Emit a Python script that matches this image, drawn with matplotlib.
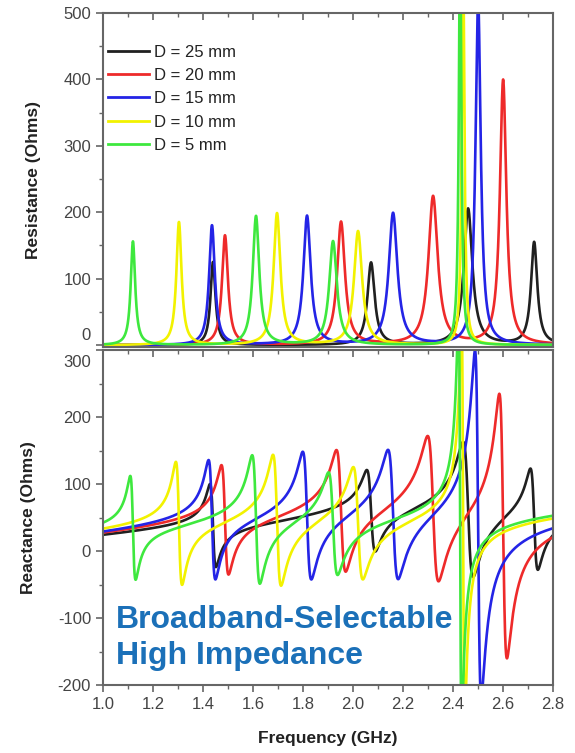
import numpy as np
import matplotlib
matplotlib.use("Agg")
import matplotlib.pyplot as plt
from matplotlib.ticker import MultipleLocator
from matplotlib.transforms import ScaledTranslation

plt.rcParams['font.family'] = ['Liberation Sans', 'DejaVu Sans']
plt.rcParams['axes.unicode_minus'] = False

# ---- data ----
labels = ["D = 25 mm", "D = 20 mm", "D = 15 mm", "D = 10 mm", "D = 5 mm"]
colors = ["#202020", "#ee2a2a", "#2424e6", "#f2f200", "#3ee83e"]

# resonance frequencies (GHz), peak resistances (Ohm) and quality factors
black_f = [1.440, 2.072, 2.460, 2.724]
black_r = [125, 124, 205, 154]
black_q = [60, 60, 60, 90]

red_f = [1.488, 1.952, 2.320, 2.600]
red_r = [165, 185, 223, 398]
red_q = [52, 52, 52, 85]

blue_f = [1.436, 1.816, 2.160, 2.500]
blue_r = [180, 194, 198, 520]
blue_q = [52, 52, 52, 100]

yellow_f = [1.304, 1.696, 2.020, 2.440]
yellow_r = [185, 198, 171, 600]
yellow_q = [52, 52, 52, 200]

green_f = [1.120, 1.612, 1.920, 2.428]
green_r = [156, 194, 156, 620]
green_q = [52, 52, 52, 200]

# series background reactance: value at 1.0 GHz and slope (Ohm per GHz)
bg_start = [18, 17, 17, 20, 22]
bg_slope = [30, 30, 30, 28, 28]

series_f = [black_f, red_f, blue_f, yellow_f, green_f]
series_r = [black_r, red_r, blue_r, yellow_r, green_r]
series_q = [black_q, red_q, blue_q, yellow_q, green_q]

freq = np.linspace(1.0, 2.8, 4000)


def impedance(f, f0s, rs, qs, x0, slope):
    z = 1j * (x0 + slope * (f - 1.0))
    for f0, r, q in zip(f0s, rs, qs):
        x = q * (f / f0 - f0 / f)
        z = z + r / (1 + 1j * x)
    return z


fig = plt.figure(figsize=(5.75, 7.53), dpi=100)
ax1 = fig.add_axes([0.179, 0.539, 0.783, 0.444])
ax2 = fig.add_axes([0.179, 0.090, 0.783, 0.445])

for i in range(5):
    z = impedance(freq, series_f[i], series_r[i], series_q[i], bg_start[i], bg_slope[i])
    ax1.plot(freq, z.real, color=colors[i], lw=1.9, label=labels[i])
    ax2.plot(freq, z.imag, color=colors[i], lw=1.9)

spine_c = "#666666"
tick_c = "#444444"
for ax in (ax1, ax2):
    ax.set_xlim(1.0, 2.8)
    ax.xaxis.set_major_locator(MultipleLocator(0.2))
    ax.xaxis.set_minor_locator(MultipleLocator(0.1))
    ax.yaxis.set_major_locator(MultipleLocator(100))
    ax.yaxis.set_minor_locator(MultipleLocator(50))
    for s in ax.spines.values():
        s.set_color(spine_c)
        s.set_linewidth(1.5)
    ax.tick_params(axis='y', which='both', direction='out', left=True, right=False,
                   color=spine_c, labelcolor=tick_c, labelsize=12)
    ax.tick_params(axis='y', which='major', length=5, width=1.2)
    ax.tick_params(axis='y', which='minor', length=3, width=1.0)
    ax.tick_params(axis='x', which='both', top=True, color=spine_c, labelcolor=tick_c,
                   labelsize=12)
    ax.tick_params(axis='x', which='major', length=5, width=1.2)
    ax.tick_params(axis='x', which='minor', length=3, width=1.0)

ax1.set_ylim(-3, 500)
ax2.set_ylim(-200, 300)
ax1.tick_params(axis='x', which='both', direction='in', labelbottom=False, bottom=False)
ax2.xaxis.set_tick_params(which='both', direction='out', top=True, labelbottom=True)

ax2.set_xticks(np.arange(1.0, 2.81, 0.2))
ax2.set_xticklabels([f"{v:.1f}" for v in np.arange(1.0, 2.81, 0.2)])
for t in ax2.xaxis.get_major_ticks() + ax2.xaxis.get_minor_ticks():
    t.tick2line.set_marker(3)  # inward tick on top edge

ax1.set_ylabel("Resistance (Ohms)", fontsize=12.5, fontweight='bold', color="#222222", labelpad=16)
ax2.set_ylabel("Reactance (Ohms)", fontsize=12.5, fontweight='bold', color="#222222", labelpad=16)
ax2.set_xlabel("Frequency (GHz)", fontsize=12.5, fontweight='bold', color="#222222", labelpad=14)

leg = ax1.legend(loc='upper left', frameon=False, fontsize=12, handlelength=2.5,
                 handletextpad=0.3, labelspacing=0.5, borderaxespad=0.2,
                 bbox_to_anchor=(-0.012, 0.935), labelcolor="#222222")
for h in leg.get_lines():
    h.set_linewidth(2.0)

ax2.text(0.028, 0.14, "Broadband-Selectable\nHigh Impedance", transform=ax2.transAxes,
         fontsize=23, fontweight='bold', color="#1b70b8", ha='left', va='center',
         linespacing=1.25)

# shift the overlapping "0" and "300" labels apart as in the reference
ax1.set_yticks(np.arange(0, 501, 100))
ax2.set_yticks(np.arange(-200, 301, 100))
for lab in ax1.get_yticklabels():
    if lab.get_text() == "0":
        lab.set_transform(lab.get_transform() + ScaledTranslation(0, 11 / 100, fig.dpi_scale_trans))
for lab in ax2.get_yticklabels():
    if lab.get_text() == "300":
        lab.set_transform(lab.get_transform() + ScaledTranslation(0, -11 / 100, fig.dpi_scale_trans))

fig.savefig("out.png", dpi=100)
